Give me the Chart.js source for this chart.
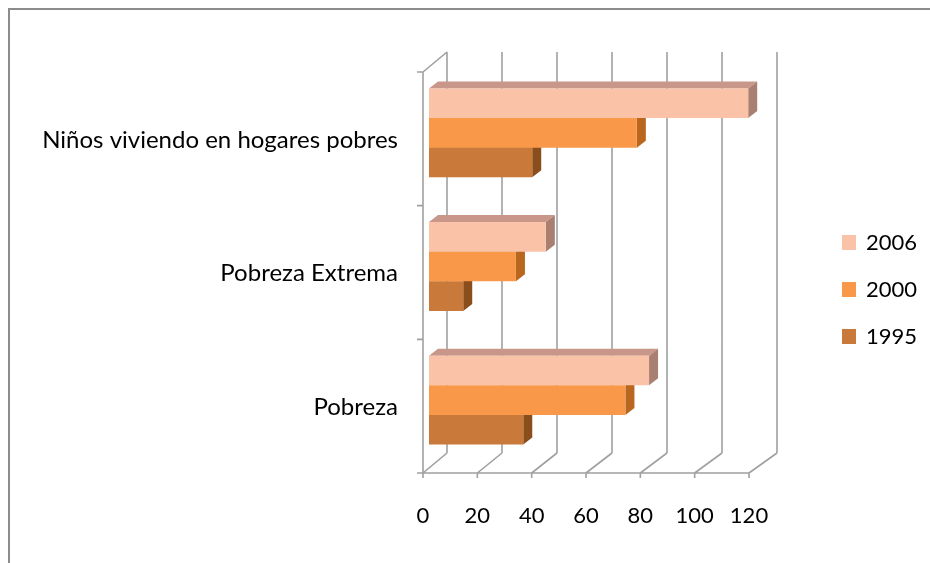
<!DOCTYPE html>
<html>
<head>
<meta charset="utf-8">
<script src="https://cdn.jsdelivr.net/npm/chart.js@4.4.0/dist/chart.umd.min.js"></script>
<style>
  html, body { margin: 0; padding: 0; background: #ffffff; }
  #wrap { position: relative; width: 930px; height: 563px; }
</style>
</head>
<body>
<div id="wrap"><canvas id="c" width="930" height="563"></canvas></div>
<script>
// ---- data ----
const categories = ['Niños viviendo en hogares pobres', 'Pobreza Extrema', 'Pobreza'];
const seriesNames = ['2006', '2000', '1995'];
const values2006 = [117.5, 43, 81];
const values2000 = [76.5, 32, 72.3];
const values1995 = [38, 12.6, 34.7];
const xTickValues = [0, 20, 40, 60, 80, 100, 120];

// ---- styles ----
const frontColors = ['#FAC3A8', '#F89848', '#C97A3A'];
const topColors   = ['#C8978A', '#D47A30', '#A05A24'];
const sideColors  = ['#A97F72', '#B9661F', '#8A4E1C'];
const FONT = 'Lato, "Open Sans", sans-serif';
const FONT_SIZE = 22;
const CAT_FONT_SIZE = 24;
const GRID = '#a0a0a0';

// 3D geometry (pixel offsets)
const FRONT_DX = -6, FRONT_DY = 6;     // bar plane -> front plane
const BACK_DX = 18, BACK_DY = -14;     // bar plane -> back plane
const BACK_SCALE = 330 / 326;
const BAR_DX = 9, BAR_DY = -7;         // bar depth

const threeD = {
  id: 'threeD',
  beforeDraw(chart) {
    const ctx = chart.ctx;
    ctx.save();
    ctx.fillStyle = '#ffffff';
    ctx.fillRect(0, 0, chart.width, chart.height);
    ctx.strokeStyle = '#8c8c8c';
    ctx.lineWidth = 2;
    ctx.beginPath();
    ctx.moveTo(9, chart.height);
    ctx.lineTo(9, 9);
    ctx.lineTo(chart.width, 9);
    ctx.stroke();
    ctx.restore();
  },
  beforeDatasetsDraw(chart) {
    const ctx = chart.ctx;
    const xs = chart.scales.x;
    const area = chart.chartArea;
    const x0 = xs.getPixelForValue(0);
    const frontX = v => xs.getPixelForValue(v) + FRONT_DX;
    const backX = v => x0 + BACK_DX + (xs.getPixelForValue(v) - x0) * BACK_SCALE;
    const fTop = area.top + FRONT_DY, fBot = area.bottom + FRONT_DY;
    const bTop = area.top + BACK_DY, bBot = area.bottom + BACK_DY;
    ctx.save();
    ctx.strokeStyle = GRID;
    ctx.lineWidth = 1.6;
    ctx.beginPath();
    xTickValues.forEach(v => {
      ctx.moveTo(backX(v), bTop);
      ctx.lineTo(backX(v), bBot);
      ctx.moveTo(frontX(v), fBot);
      ctx.lineTo(backX(v), bBot);
      ctx.moveTo(frontX(v), fBot);
      ctx.lineTo(frontX(v), fBot + 5);
    });
    ctx.moveTo(frontX(xTickValues[0]), fBot);
    ctx.lineTo(frontX(xTickValues[xTickValues.length - 1]), fBot);
    ctx.moveTo(frontX(0), fTop);
    ctx.lineTo(frontX(0), fBot);
    ctx.moveTo(frontX(0), fTop);
    ctx.lineTo(backX(0), bTop);
    const n = categories.length;
    for (let i = 0; i <= n; i++) {
      const y = fTop + (fBot - fTop) * i / n;
      ctx.moveTo(frontX(0) - 6, y);
      ctx.lineTo(frontX(0), y);
    }
    ctx.stroke();
    ctx.restore();
  },
  beforeDatasetDraw(chart, args) {
    const ctx = chart.ctx;
    const i = args.index;
    const meta = args.meta;
    ctx.save();
    meta.data.forEach(bar => {
      const p = bar.getProps(['x', 'y', 'base', 'height'], true);
      const L = Math.min(p.base, p.x), R = Math.max(p.base, p.x);
      const T = p.y - p.height / 2, B = p.y + p.height / 2;
      ctx.fillStyle = topColors[i];
      ctx.beginPath();
      ctx.moveTo(L, T);
      ctx.lineTo(L + BAR_DX, T + BAR_DY);
      ctx.lineTo(R + BAR_DX, T + BAR_DY);
      ctx.lineTo(R, T);
      ctx.closePath();
      ctx.fill();
      ctx.fillStyle = sideColors[i];
      ctx.beginPath();
      ctx.moveTo(R, T);
      ctx.lineTo(R + BAR_DX, T + BAR_DY);
      ctx.lineTo(R + BAR_DX, B + BAR_DY);
      ctx.lineTo(R, B);
      ctx.closePath();
      ctx.fill();
    });
    ctx.restore();
  },
  afterDraw(chart) {
    const ctx = chart.ctx;
    ctx.save();
    ctx.font = FONT_SIZE + 'px ' + FONT;
    ctx.textBaseline = 'middle';
    ctx.textAlign = 'left';
    const legendTop = 242, legendGap = 47;
    chart.data.datasets.forEach((ds, i) => {
      const cy = legendTop + i * legendGap;
      ctx.fillStyle = ds.backgroundColor;
      ctx.fillRect(842, cy - 7, 14, 15);
      ctx.fillStyle = '#000000';
      ctx.fillText(ds.label, 866, cy + 1);
    });
    ctx.restore();
  }
};

new Chart(document.getElementById('c'), {
  type: 'bar',
  data: {
    labels: categories,
    datasets: [
      { label: seriesNames[0], data: values2006, backgroundColor: frontColors[0] },
      { label: seriesNames[1], data: values2000, backgroundColor: frontColors[1] },
      { label: seriesNames[2], data: values1995, backgroundColor: frontColors[2] }
    ]
  },
  options: {
    indexAxis: 'y',
    responsive: false,
    animation: false,
    devicePixelRatio: 1,
    layout: { padding: { left: 0, top: 66, right: 175, bottom: 36 } },
    datasets: { bar: { barPercentage: 1.0, categoryPercentage: 0.665, borderWidth: 0 } },
    plugins: { legend: { display: false }, tooltip: { enabled: false } },
    scales: {
      x: {
        min: 0, max: 120,
        afterBuildTicks: s => { s.ticks = xTickValues.map(v => ({ value: v })); },
        afterFit: s => { s.height = 60; },
        grid: { display: false, drawTicks: false },
        border: { display: false },
        ticks: { color: '#000', font: { family: FONT, size: FONT_SIZE }, padding: 36, labelOffset: FRONT_DX, maxRotation: 0, autoSkip: false }
      },
      y: {
        afterFit: s => { s.width = 429; },
        grid: { display: false, drawTicks: false },
        border: { display: false },
        ticks: { color: '#000', font: { family: FONT, size: CAT_FONT_SIZE }, padding: 31, labelOffset: 7 }
      }
    }
  },
  plugins: [threeD]
});
</script>
</body>
</html>
